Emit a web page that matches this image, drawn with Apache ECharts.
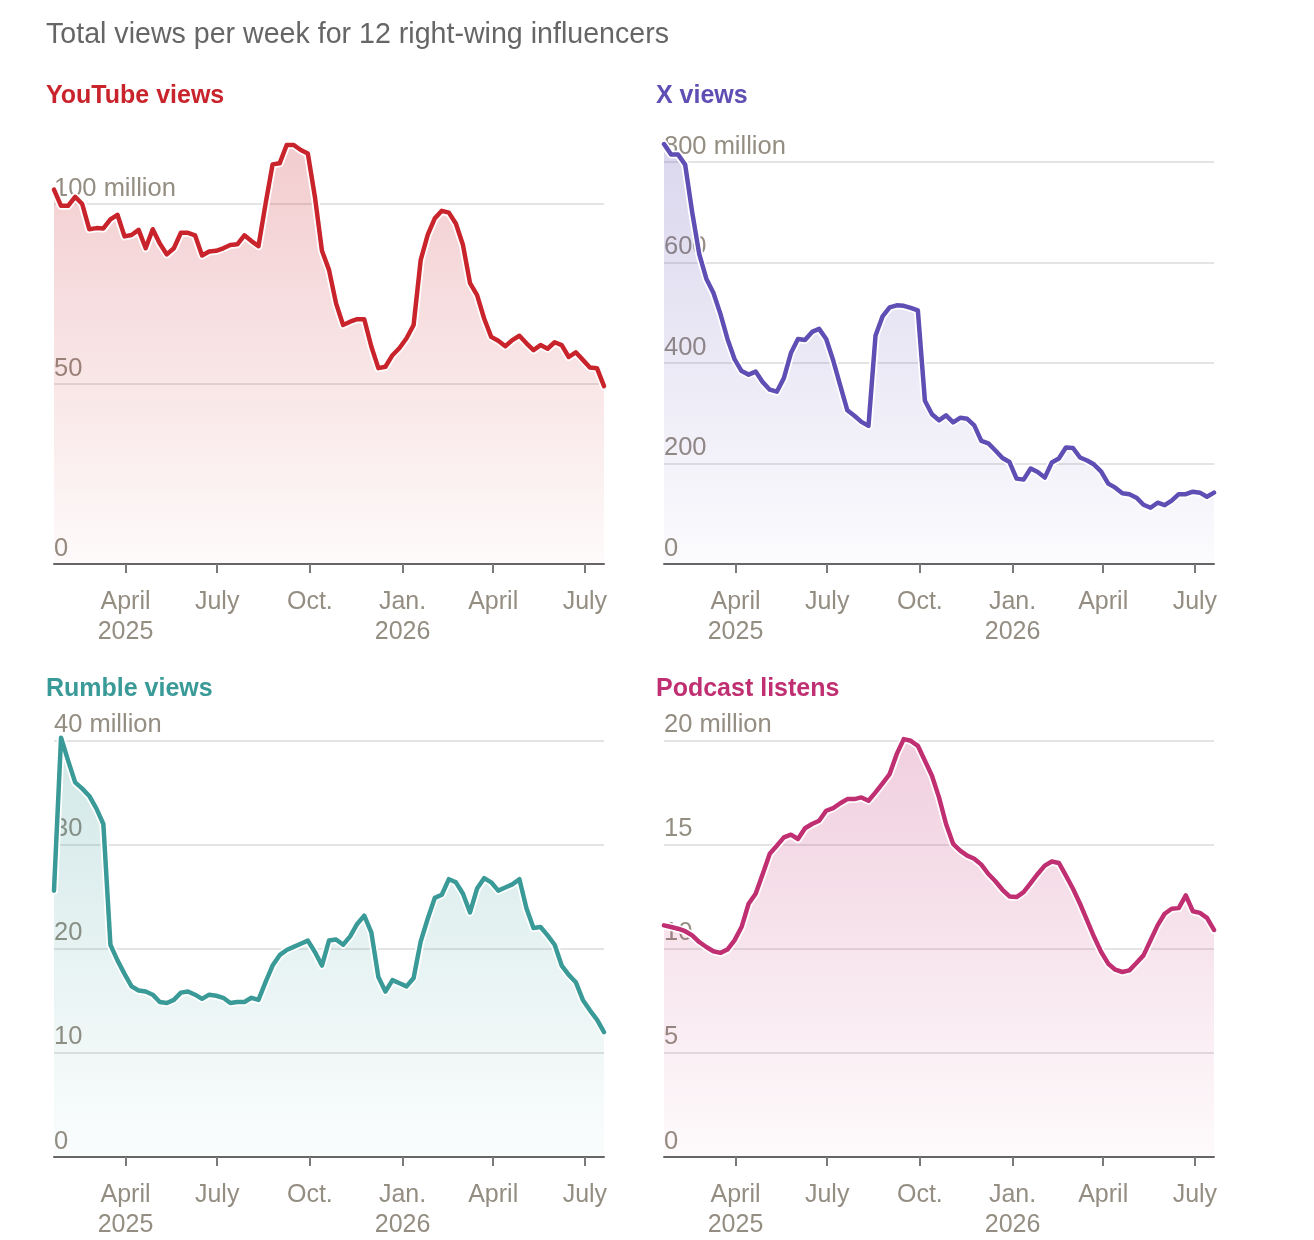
<!DOCTYPE html>
<html>
<head>
<meta charset="utf-8">
<script src="https://cdn.jsdelivr.net/npm/echarts@6/dist/echarts.min.js"></script>
<style>
  html, body { margin: 0; padding: 0; background: #fff; }
  #chart { width: 1314px; height: 1240px; }
</style>
</head>
<body>
<div id="chart"></div>
<script>
// weekly totals, first week starting Jan. 20, 2025
const WEEK_START = Date.UTC(2025, 0, 20)
const DAY = 24 * 3600 * 1000

const youtubeViews = [
  104, 99.5, 99.5, 102, 100, 93, 93.3, 93.2, 95.7, 97,
  91, 91.4, 92.8, 87.7, 93, 89, 86, 87.7, 92, 92,
  91.3, 85.7, 86.8, 87, 87.7, 88.6, 88.8, 91.3, 89.7, 88.3,
  100, 111, 111.3, 116.4, 116.4, 115, 114, 102, 87, 81.7,
  72.4, 66.4, 67.3, 68, 68, 60.4, 54.4, 54.8, 58, 60,
  62.7, 66.4, 84.4, 91.4, 96, 98.1, 97.6, 94.5, 88.6, 78,
  74.7, 68.2, 63.1, 62, 60.5, 62.2, 63.4, 61.3, 59.4, 60.8,
  59.8, 61.6, 60.8, 57.5, 58.8, 56.7, 54.6, 54.4, 49.4,
]
const xViews = [
  836, 815, 815, 795, 700, 617, 568, 540, 498, 448,
  408, 384, 377, 383, 362, 347, 343, 370, 420, 448,
  446, 462, 468, 448, 405, 355, 306, 295, 283, 275,
  455, 493, 511, 515, 514, 510, 505, 325, 298, 286,
  296, 282, 291, 289, 276, 245, 240, 226, 211, 203,
  170, 168, 190, 183, 172, 202, 210, 232, 231, 212,
  206, 198, 184, 160, 152, 141, 139, 132, 118, 112,
  122, 117, 126, 139, 139, 144, 142, 134, 142,
]
const rumbleViews = [
  25.6, 40.3, 38.1, 36, 35.4, 34.7, 33.5, 32, 20.4, 18.9,
  17.6, 16.4, 16, 15.9, 15.6, 14.9, 14.8, 15.1, 15.8, 15.9,
  15.6, 15.2, 15.6, 15.5, 15.3, 14.8, 14.9, 14.9, 15.3, 15.1,
  16.8, 18.4, 19.4, 19.9, 20.2, 20.5, 20.8, 19.7, 18.4, 20.8,
  20.9, 20.4, 21.2, 22.4, 23.2, 21.6, 17.3, 15.9, 17, 16.7,
  16.4, 17.2, 20.7, 22.9, 24.9, 25.2, 26.7, 26.4, 25.3, 23.5,
  25.8, 26.8, 26.4, 25.6, 25.9, 26.2, 26.7, 23.9, 22, 22.1,
  21.3, 20.4, 18.4, 17.5, 16.8, 15.1, 14.1, 13.2, 12,
]
const podcastListens = [
  11.13, 11.05, 10.97, 10.85, 10.65, 10.33, 10.09, 9.89, 9.81, 9.97,
  10.41, 11.05, 12.17, 12.65, 13.6, 14.57, 14.96, 15.36, 15.49, 15.28,
  15.8, 16, 16.16, 16.64, 16.77, 17, 17.2, 17.2, 17.28, 17.12,
  17.52, 17.96, 18.4, 19.36, 20.08, 20, 19.76, 19.04, 18.32, 17.28,
  16, 15.05, 14.72, 14.48, 14.33, 14.05, 13.6, 13.25, 12.84, 12.52,
  12.49, 12.73, 13.16, 13.6, 14, 14.2, 14.13, 13.52, 12.89, 12.17,
  11.37, 10.57, 9.85, 9.29, 9, 8.89, 8.97, 9.32, 9.69, 10.41,
  11.13, 11.69, 11.93, 11.96, 12.57, 11.81, 11.73, 11.49, 10.91,
]

const weeks = youtubeViews.map((_, i) => WEEK_START + i * 7 * DAY)

const tickDates = [
  Date.UTC(2025, 3, 1), Date.UTC(2025, 6, 1), Date.UTC(2025, 9, 1),
  Date.UTC(2026, 0, 1), Date.UTC(2026, 3, 1), Date.UTC(2026, 6, 1),
]
const tickLabels = ['April\n2025', 'July', 'Oct.', 'Jan.\n2026', 'April', 'July']

const FONT = '"Liberation Sans", Arial, sans-serif'
const AXIS_GREY = '#948d82'

const panels = [
  { title: 'YouTube views', color: '#c9232b', values: youtubeViews, max: 120, interval: 50, unitAt: 100,
    left: 54, top: 132, height: 432, titleLeft: 46, titleTop: 84 },
  { title: 'X views', color: '#5f4eb3', values: xViews, max: 860, interval: 200, unitAt: 800,
    left: 664, top: 132, height: 432, titleLeft: 656, titleTop: 84 },
  { title: 'Rumble views', color: '#3a9a98', values: rumbleViews, max: 42, interval: 10, unitAt: 40,
    left: 54, top: 720, height: 438, titleLeft: 46, titleTop: 677 },
  { title: 'Podcast listens', color: '#c02f71', values: podcastListens, max: 21, interval: 5, unitAt: 20,
    left: 664, top: 720, height: 438, titleLeft: 656, titleTop: 677 },
]

function rgba(hex, a) {
  const n = parseInt(hex.slice(1), 16)
  return `rgba(${(n >> 16) & 255},${(n >> 8) & 255},${n & 255},${a})`
}

const chart = echarts.init(document.getElementById('chart'), null, { renderer: 'canvas' })

const option = {
  animation: false,
  backgroundColor: '#fff',
  textStyle: { fontFamily: FONT },
  title: [
    {
      text: 'Total views per week for 12 right-wing influencers',
      left: 46, top: 21, padding: 0,
      textStyle: { fontFamily: FONT, fontSize: 28.6, fontWeight: 'normal', color: '#666666' },
    },
    ...panels.map(p => ({
      text: p.title,
      left: p.titleLeft, top: p.titleTop, padding: 0,
      textStyle: { fontFamily: FONT, fontSize: 25, fontWeight: 'bold', color: p.color },
    })),
  ],
  grid: panels.map(p => ({ left: p.left, top: p.top, width: 550, height: p.height })),
  // dates as plain numbers so the quarter ticks can be placed exactly
  xAxis: panels.map((p, i) => ({
    type: 'value',
    gridIndex: i,
    min: weeks[0],
    max: weeks[weeks.length - 1],
    axisLine: { show: true, onZero: false, lineStyle: { color: '#666', width: 2 } },
    axisTick: { show: true, customValues: tickDates, length: 9, lineStyle: { color: '#7a7a7a', width: 2 } },
    splitLine: { show: false },
    axisLabel: {
      customValues: tickDates,
      formatter: v => tickLabels[tickDates.indexOf(v)] || '',
      color: AXIS_GREY,
      fontFamily: FONT,
      fontSize: 25,
      lineHeight: 30,
      margin: 23,
    },
  })),
  yAxis: panels.map((p, i) => ({
    type: 'value',
    gridIndex: i,
    min: 0,
    max: p.max,
    interval: p.interval,
    axisLine: { show: false },
    axisTick: { show: false },
    splitLine: { show: true, showMinLine: false, showMaxLine: false, lineStyle: { color: '#e4e4e4', width: 2 } },
    axisLabel: {
      inside: true,
      showMaxLabel: false,
      margin: 0,
      verticalAlign: 'bottom',
      padding: [0, 0, 3, 0],
      lineHeight: 25,
      color: AXIS_GREY,
      fontFamily: FONT,
      fontSize: 25.5,
      formatter: v => (v === p.unitAt ? v + ' million' : String(v)),
    },
  })),
  series: panels.flatMap((p, i) => {
    const data = p.values.map((v, k) => [weeks[k], v])
    return [
      {
        // area fill plus white halo under the line
        type: 'line',
        xAxisIndex: i,
        yAxisIndex: i,
        data,
        symbol: 'none',
        silent: true,
        lineStyle: { color: '#fff', width: 8, cap: 'round', join: 'round' },
        areaStyle: {
          color: new echarts.graphic.LinearGradient(0, 0, 0, 1, [
            { offset: 0, color: rgba(p.color, 0.33) },
            { offset: 1, color: rgba(p.color, 0.03) },
          ]),
        },
      },
      {
        type: 'line',
        xAxisIndex: i,
        yAxisIndex: i,
        data,
        symbol: 'none',
        silent: true,
        lineStyle: { color: p.color, width: 4.5, cap: 'round', join: 'round' },
      },
    ]
  }),
}

chart.setOption(option)
</script>
</body>
</html>
